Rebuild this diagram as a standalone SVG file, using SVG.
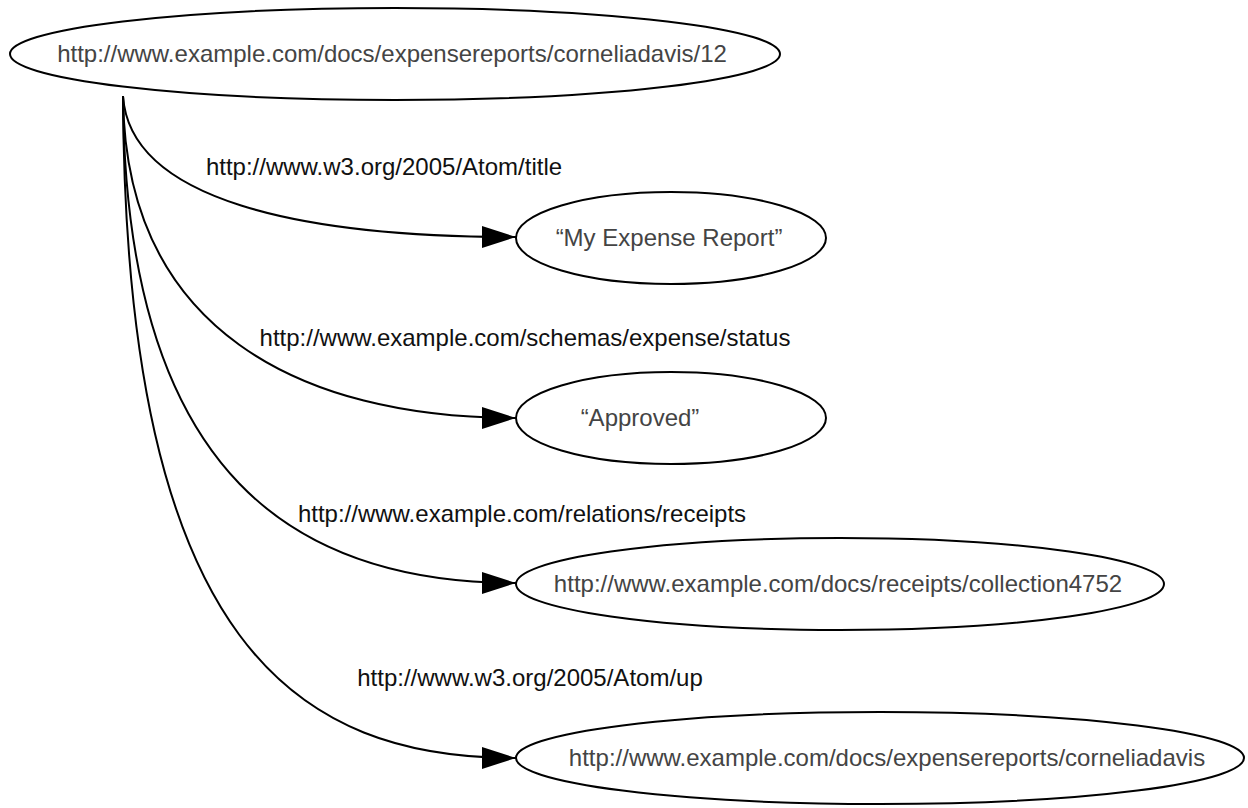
<svg xmlns="http://www.w3.org/2000/svg" width="1248" height="808" viewBox="0 0 1248 808">
<style>
.node ellipse{fill:#fff;stroke:#000;stroke-width:2}
.node text{font-family:"Liberation Sans",Arial,sans-serif;font-size:24px;fill:#444;text-anchor:middle}
.edge path{fill:none;stroke:#000;stroke-width:2}
.lbl{font-family:"Liberation Sans",Arial,sans-serif;font-size:24px;fill:#111;text-anchor:middle}
</style>
<defs>
<marker id="arr" markerUnits="userSpaceOnUse" markerWidth="36" markerHeight="24" refX="34" refY="11" orient="auto">
<path d="M0,0 L34,11 L0,22 Z" fill="#000"/>
</marker>
</defs>
<rect width="1248" height="808" fill="#fff"/>
<g id="edges" class="edge">
<path d="M123,96 C130,200 300,237 516,237" marker-end="url(#arr)"/>
<path d="M123,96 C125,330 300,418 516,418" marker-end="url(#arr)"/>
<path d="M123,96 C125,480 300,583 516,583" marker-end="url(#arr)"/>
<path d="M123,96 C125,650 300,758 516,758" marker-end="url(#arr)"/>
<text class="lbl" x="384" y="175">http://www.w3.org/2005/Atom/title</text>
<text class="lbl" x="525" y="346">http://www.example.com/schemas/expense/status</text>
<text class="lbl" x="522" y="522">http://www.example.com/relations/receipts</text>
<text class="lbl" x="530" y="686">http://www.w3.org/2005/Atom/up</text>
</g>
<g id="n0" class="node">
<ellipse cx="395" cy="54" rx="385" ry="46"/>
<text x="392" y="62">http://www.example.com/docs/expensereports/corneliadavis/12</text>
</g>
<g id="n1" class="node">
<ellipse cx="671" cy="238" rx="155" ry="46"/>
<text x="669" y="246">“My Expense Report”</text>
</g>
<g id="n2" class="node">
<ellipse cx="671" cy="418" rx="155" ry="46"/>
<text x="640" y="426">“Approved”</text>
</g>
<g id="n3" class="node">
<ellipse cx="840" cy="584" rx="324" ry="46"/>
<text x="838" y="592">http://www.example.com/docs/receipts/collection4752</text>
</g>
<g id="n4" class="node">
<ellipse cx="880" cy="758" rx="364" ry="46"/>
<text x="887" y="766">http://www.example.com/docs/expensereports/corneliadavis</text>
</g>
</svg>
